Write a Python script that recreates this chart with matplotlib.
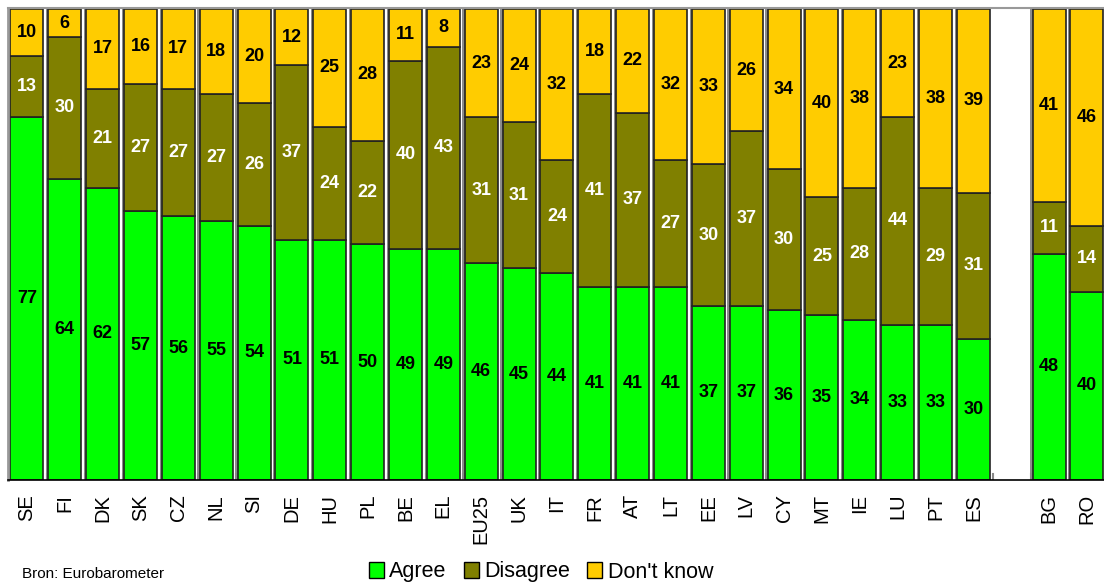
import numpy as np
import matplotlib
matplotlib.use('Agg')
import matplotlib.pyplot as plt
from matplotlib.patches import Patch

plt.rcParams['font.family'] = ['Liberation Sans', 'DejaVu Sans']

# landen (lege plek tussen ES en BG)
landen = ['SE','FI','DK','SK','CZ','NL','SI','DE','HU','PL','BE','EL','EU25','UK','IT',
          'FR','AT','LT','EE','LV','CY','MT','IE','LU','PT','ES','','BG','RO']
agree =    [77,64,62,57,56,55,54,51,51,50,49,49,46,45,44,41,41,41,37,37,36,35,34,33,33,30,0,48,40]
disagree = [13,30,21,27,27,27,26,37,24,22,40,43,31,31,24,41,37,27,30,37,30,25,28,44,29,31,0,11,14]
dontknow = [10,6,17,16,17,18,20,12,25,28,11,8,23,24,32,18,22,32,33,26,34,40,38,23,38,39,0,41,46]

groen = '#00FF00'
olijf = '#808000'
geel = '#FFCC00'

fig = plt.figure(figsize=(11.04,5.84), dpi=100)
ax = fig.add_axes([8/1104, 1-480/584, 1-8/1104, 472/584])

x = np.arange(len(landen))
a = np.array(agree)
d = np.array(disagree)
k = np.array(dontknow)
echt = np.array([l != '' for l in landen])
breedte = 0.87

# schaduw links van de balken
ax.bar(x[echt]-0.06, (a+d+k)[echt], width=breedte, color='#8c8c8c', linewidth=0, zorder=1)

ax.bar(x[echt], a[echt], width=breedte, color=groen, edgecolor='#222222', linewidth=1.2, zorder=2)
ax.bar(x[echt], d[echt], bottom=a[echt], width=breedte, color=olijf, edgecolor='#222222', linewidth=1.2, zorder=2)
ax.bar(x[echt], k[echt], bottom=(a+d)[echt], width=breedte, color=geel, edgecolor='#222222', linewidth=1.2, zorder=2)

for i in x[echt]:
    ax.text(i, a[i]/2, str(a[i]), ha='center', va='center', fontsize=13, fontweight='bold', color='black', zorder=3)
    ax.text(i, a[i]+d[i]/2, str(d[i]), ha='center', va='center', fontsize=13, fontweight='bold', color='white', zorder=3)
    ax.text(i, a[i]+d[i]+k[i]/2, str(k[i]), ha='center', va='center', fontsize=13, fontweight='bold', color='black', zorder=3)

ax.set_xlim(-0.5, 28.45)
ax.set_ylim(0, 100.2)
ax.set_xticks(x)
ax.set_xticklabels(landen, rotation=90, fontsize=14.5)
ax.tick_params(axis='x', length=0, pad=10)
ax.set_yticks([])
# kleine streepjes tussen de balken
for i in range(len(landen)):
    ax.plot([i-0.5+0.03, i-0.5+0.03], [0, 1.2], color='#888888', lw=1.5, zorder=1)

ax.spines['right'].set_visible(False)
ax.spines['top'].set_color('#999999')
ax.spines['top'].set_linewidth(1.5)
ax.spines['left'].set_color('#999999')
ax.spines['left'].set_linewidth(2)
ax.spines['bottom'].set_color('black')
ax.spines['bottom'].set_linewidth(1.2)

handles = [Patch(facecolor=groen, edgecolor='black'),
           Patch(facecolor=olijf, edgecolor='black'),
           Patch(facecolor=geel, edgecolor='black')]
fig.legend(handles, ['Agree','Disagree',"Don't know"], loc='center', bbox_to_anchor=(541/1104, 1-572/584),
           ncol=3, frameon=False, fontsize=15.5, handlelength=0.7, handleheight=0.7,
           handletextpad=0.25, columnspacing=0.8)

fig.text(22/1104, 1-574/584, 'Bron: Eurobarometer', fontsize=11, va='center', ha='left')

fig.savefig('out.png', dpi=100)
